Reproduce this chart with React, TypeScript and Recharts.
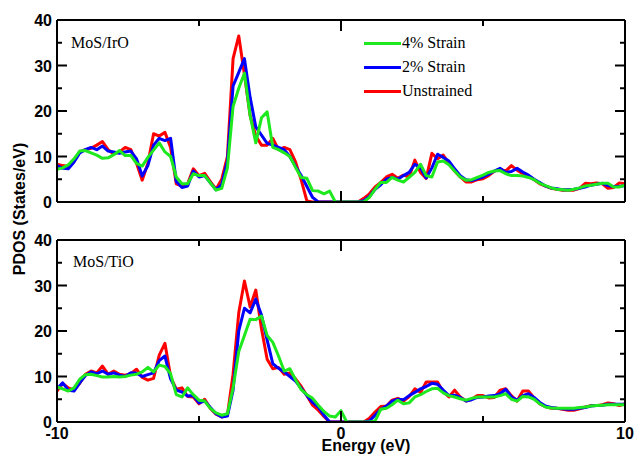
import React from "react";
import { Legend, Line, LineChart, XAxis, YAxis } from "recharts";

// energy grid, eV (step 0.2)
const energies = Array.from({ length: 101 }, (_, i) => Math.round((-10 + i * 0.2) * 10) / 10);

// MoS/IrO
const iroUnstrained = [
  8.3, 8.0, 7.8, 9.0, 11.0,
  11.5, 11.8, 12.5, 13.3, 11.5,
  10.5, 11.0, 12.0, 11.5, 8.5,
  4.8, 8.5, 15.0, 14.5, 15.3,
  12.0, 4.0, 3.5, 4.0, 7.3,
  5.8, 6.3, 4.5, 2.8, 5.0,
  10.0, 31.5, 36.5, 28.0, 19.0,
  14.5, 12.5, 12.5, 14.0, 11.5,
  12.0, 11.5, 8.8, 4.8, 0.2,
  0, 0, 0, 0, 0,
  0, 0, 0, 0, 0.8,
  1.8, 3.3, 4.3, 5.5, 6.1,
  5.2, 5.9, 5.5, 9.2, 6.5,
  5.2, 10.7, 9.5, 10.3, 8.5,
  6.8, 5.5, 4.4, 4.4, 4.9,
  5.1, 5.8, 6.8, 7.2, 6.8,
  8.0, 7.0, 6.2, 5.8, 4.9,
  4.0, 3.5, 3.0, 2.8, 2.6,
  2.6, 2.6, 3.0, 4.1, 4.0,
  4.2, 4.0, 3.0, 3.2, 4.2,
  4.0,
];
const iroStrain2 = [
  8.0, 7.4, 7.3, 8.8, 10.8,
  11.5, 12.0, 11.5, 12.3, 11.2,
  11.0, 10.7, 11.0, 11.2, 9.5,
  5.7, 8.0, 12.5, 14.0, 13.5,
  14.0, 4.5, 3.2, 3.5, 6.8,
  5.5, 5.8, 4.2, 2.7, 3.8,
  9.0, 25.5, 28.5, 31.5, 23.0,
  16.5, 14.7, 12.9, 12.5, 12.0,
  11.5, 10.0, 7.8, 5.8, 3.4,
  1.0, 0, 0, 0, 0,
  0, 0, 0, 0, 0.3,
  1.2, 2.8, 3.8, 5.0, 5.4,
  5.0, 5.8, 6.5, 8.3, 7.5,
  5.3, 7.5, 10.5, 9.8, 9.0,
  7.3, 5.8, 4.9, 4.7, 5.1,
  5.5, 6.1, 6.8, 7.4, 6.5,
  6.7, 7.4, 6.6, 5.9, 5.0,
  4.3, 3.5, 3.1, 2.9, 2.7,
  2.7, 2.8, 3.0, 3.3, 3.7,
  3.9, 4.1, 3.6, 3.4, 3.4,
  3.6,
];
const iroStrain4 = [
  7.2, 7.5, 8.2, 9.5, 11.2,
  11.3, 10.8, 10.3, 9.6, 9.7,
  10.4, 11.3, 10.2, 10.2, 8.5,
  7.9, 9.8, 11.4, 13.0, 11.0,
  10.0, 5.5, 4.0, 4.0, 6.2,
  5.8, 5.8, 4.2, 2.6, 3.0,
  7.5, 21.0, 25.0, 28.3, 19.0,
  13.0, 18.5, 19.8, 12.0, 11.5,
  10.8, 10.0, 7.6, 5.4, 5.2,
  2.5, 2.4, 1.8, 2.4, 0,
  0, 0, 0, 0, 0,
  1.0, 2.8, 4.3, 4.3, 5.4,
  4.8, 4.4, 5.4, 6.5, 8.3,
  5.8, 5.5, 8.8, 9.0, 8.2,
  6.8, 5.5, 4.8, 4.9, 5.4,
  5.9, 6.5, 6.8, 6.9, 6.2,
  5.8, 5.8, 5.7, 5.4, 4.9,
  4.1, 3.6, 3.1, 2.8, 2.7,
  2.6, 2.8, 3.1, 3.5, 3.7,
  3.9, 4.1, 4.1, 3.3, 3.3,
  3.7,
];

// MoS/TiO
const tioUnstrained = [
  6.8, 8.5, 7.5, 7.0, 8.5,
  10.5, 11.2, 10.8, 12.3, 10.5,
  11.2, 10.5, 10.3, 10.6, 11.6,
  9.8, 9.2, 9.6, 14.7, 17.3,
  10.0, 7.2, 7.5, 5.6, 5.5,
  4.0, 5.0, 3.0, 1.7, 1.1,
  1.5, 10.5, 24.0, 31.0, 25.3,
  29.0, 20.5, 13.8, 11.7, 12.0,
  10.5, 10.8, 9.5, 7.8, 5.8,
  3.7, 2.6, 1.2, 0, 0,
  0, 0, 0, 0, 0,
  0.8, 2.2, 3.4, 3.5, 4.8,
  5.2, 4.6, 5.6, 7.3, 6.5,
  8.8, 8.8, 8.8, 6.6, 5.5,
  7.0, 5.5, 4.6, 5.0, 5.8,
  5.8, 5.3, 5.4, 7.0, 7.3,
  5.8, 4.6, 6.8, 6.8, 5.3,
  4.0, 3.4, 3.0, 3.0, 2.8,
  2.6, 2.6, 2.9, 3.3, 3.6,
  3.6, 3.8, 4.2, 4.0, 3.6,
  4.0,
];
const tioStrain2 = [
  7.3, 8.6, 7.0, 6.8, 8.6,
  10.2, 11.0, 10.6, 11.2, 10.5,
  10.8, 10.3, 10.0, 10.8, 10.7,
  10.0, 10.4, 10.8, 13.5, 14.5,
  9.5, 7.0, 6.6, 5.7, 5.8,
  4.2, 4.6, 3.2, 1.8, 1.1,
  1.3, 7.0, 20.0, 25.0, 24.0,
  27.0, 23.5, 18.0, 12.8, 11.8,
  11.0, 10.0, 9.0, 7.4, 5.8,
  4.3, 3.3, 1.5, 0, 0,
  0, 0, 0, 0, 0,
  0.2, 1.5, 2.8, 3.5, 4.6,
  5.0, 4.9, 5.8, 6.5, 7.3,
  7.8, 8.5, 8.3, 7.0, 5.8,
  5.9, 5.4, 4.6, 4.9, 5.4,
  5.5, 5.7, 5.8, 6.2, 7.2,
  5.5, 4.8, 5.8, 6.2, 5.4,
  4.3, 3.5, 3.2, 3.0, 2.9,
  2.8, 2.8, 3.0, 3.2, 3.5,
  3.6, 3.7, 3.9, 3.9, 3.9,
  3.9,
];
const tioStrain4 = [
  7.7, 7.3, 6.8, 7.5, 9.4,
  10.4, 10.5, 10.2, 9.9, 9.9,
  10.0, 9.9, 10.0, 10.3, 10.5,
  11.0, 12.0, 11.0, 12.5, 12.2,
  10.6, 6.0, 5.5, 7.5, 6.0,
  4.8, 4.6, 3.0, 2.0, 1.5,
  1.8, 7.5, 15.5, 19.0, 22.6,
  22.5, 23.3, 19.0, 17.5, 14.5,
  11.2, 11.7, 9.3, 7.1, 6.0,
  5.2, 3.7, 2.3, 1.3, 1.1,
  2.5, 0, 0, 0, 0,
  0, 0.2, 2.8, 3.0, 3.8,
  4.8, 4.0, 4.2, 5.5, 6.0,
  6.7, 7.3, 7.4, 6.4, 5.8,
  5.5, 5.1, 4.8, 5.2, 5.5,
  5.5, 5.5, 5.5, 5.8, 6.2,
  5.0, 4.6, 5.6, 5.5, 5.0,
  4.0, 3.3, 3.1, 3.0, 3.0,
  3.0, 3.0, 3.2, 3.3, 3.5,
  3.6, 3.7, 3.8, 3.8, 3.8,
  3.8,
];

const yTicks = [0, 5, 10, 15, 20, 25, 30, 35, 40];
const xTicks = [-10, -5, 0, 5, 10];
const xLabels = [-10, 0, 10];

// legend order; drawn in reverse so green ends up on top
const series = [
  { key: "s4", name: "4% Strain", color: "#1ee81e" },
  { key: "s2", name: "2% Strain", color: "#0000ff" },
  { key: "s0", name: "Unstrained", color: "#ff0000" },
];

const toRows = (s0: number[], s2: number[], s4: number[]) =>
  energies.map((e, i) => ({ e, s0: s0[i], s2: s2[i], s4: s4[i] }));

const iroRows = toRows(iroUnstrained, iroStrain2, iroStrain4);
const tioRows = toRows(tioUnstrained, tioStrain2, tioStrain4);

const sans = "'Liberation Sans', Arial, sans-serif";
const serif = "'Liberation Serif', 'Times New Roman', serif";
const frame = { stroke: "#000", strokeWidth: 2 };

function LeftTick({ x, y, payload }: any) {
  const v = payload.value;
  const major = v % 10 === 0;
  return (
    <g>
      <line x1={x} x2={x + (major ? 10 : 5)} y1={y} y2={y} stroke="#000" strokeWidth={2} />
      {major && (
        <text x={x - 5} y={y + 6} textAnchor="end" fontFamily={sans} fontWeight="bold" fontSize={16} fill="#000">
          {v}
        </text>
      )}
    </g>
  );
}

function RightTick({ x, y, payload }: any) {
  const major = payload.value % 10 === 0;
  return <line x1={x} x2={x - (major ? 10 : 5)} y1={y} y2={y} stroke="#000" strokeWidth={2} />;
}

function TopTick({ x, y, payload }: any) {
  const v = payload.value;
  if (v === -10 || v === 10) return <g />;
  return <line x1={x} x2={x} y1={y} y2={y + (v % 10 === 0 ? 11 : 6)} stroke="#000" strokeWidth={2} />;
}

function BottomTick({ x, y, payload, labels }: any) {
  const v = payload.value;
  const edge = v === -10 || v === 10;
  return (
    <g>
      {!edge && <line x1={x} x2={x} y1={y} y2={y - (v % 10 === 0 ? 11 : 6)} stroke="#000" strokeWidth={2} />}
      {labels && labels.includes(v) && (
        <text x={x} y={y + 17} textAnchor="middle" fontFamily={sans} fontWeight="bold" fontSize={16} fill="#000">
          {v}
        </text>
      )}
    </g>
  );
}

function LegendBox() {
  return (
    <div style={{ fontFamily: serif, fontSize: 16, color: "#000" }}>
      {series.map((s) => (
        <div key={s.key} style={{ display: "flex", alignItems: "center", height: 24 }}>
          <span style={{ display: "inline-block", width: 37, height: 3, background: s.color, marginRight: 1 }} />
          <span style={{ lineHeight: "24px", whiteSpace: "nowrap" }}>{s.name}</span>
        </div>
      ))}
    </div>
  );
}

function Panel({ rows, top, height, bottom, legend, labels }: any) {
  return (
    <div style={{ position: "absolute", left: 0, top, width: 635, height }}>
      <LineChart width={635} height={height} data={rows} margin={{ top: 19, right: 9, bottom, left: 0 }}>
        <XAxis
          xAxisId="b"
          dataKey="e"
          type="number"
          domain={[-10, 10]}
          ticks={xTicks}
          interval={0}
          height={1}
          tickSize={0}
          tickMargin={0}
          axisLine={frame}
          tickLine={false}
          tick={(p: any) => <BottomTick {...p} labels={labels} />}
        />
        <XAxis
          xAxisId="t"
          orientation="top"
          dataKey="e"
          type="number"
          domain={[-10, 10]}
          allowDataOverflow
          ticks={xTicks}
          interval={0}
          height={1}
          tickSize={0}
          tickMargin={0}
          axisLine={frame}
          tickLine={false}
          tick={(p: any) => <TopTick {...p} />}
        />
        <YAxis
          yAxisId="l"
          type="number"
          domain={[0, 40]}
          allowDataOverflow
          ticks={yTicks}
          interval={0}
          width={57}
          tickSize={0}
          tickMargin={0}
          axisLine={frame}
          tickLine={false}
          tick={(p: any) => <LeftTick {...p} />}
        />
        <YAxis
          yAxisId="r"
          orientation="right"
          type="number"
          domain={[0, 40]}
          allowDataOverflow
          ticks={yTicks}
          interval={0}
          width={1}
          tickSize={0}
          tickMargin={0}
          axisLine={frame}
          tickLine={false}
          tick={(p: any) => <RightTick {...p} />}
        />
        {legend && (
          <Legend
            layout="vertical"
            align="center"
            verticalAlign="middle"
            wrapperStyle={{ left: 364, top: 31, width: 130 }}
            content={() => <LegendBox />}
          />
        )}
        {[...series].reverse().map((s) => (
          <Line
            key={s.key}
            xAxisId="b"
            yAxisId="l"
            type="linear"
            dataKey={s.key}
            name={s.name}
            stroke={s.color}
            strokeWidth={3}
            strokeLinejoin="round"
            dot={false}
            activeDot={false}
            isAnimationActive={false}
          />
        ))}
      </LineChart>
    </div>
  );
}

export default function App() {
  return (
    <div style={{ position: "absolute", left: 0, top: 0, width: 635, height: 455, background: "#fff" }}>
      <Panel rows={iroRows} top={0} height={225} bottom={22} legend />
      <Panel rows={tioRows} top={220} height={235} bottom={32} labels={xLabels} />
      <svg width={635} height={455} style={{ position: "absolute", left: 0, top: 0, pointerEvents: "none" }}>
        <text x={71} y={48} fontFamily={serif} fontSize={16} fill="#000">MoS/IrO</text>
        <text x={73} y={267} fontFamily={serif} fontSize={16} fill="#000">MoS/TiO</text>
        <text
          transform="translate(25 209) rotate(-90)"
          textAnchor="middle"
          fontFamily={sans}
          fontWeight="bold"
          fontSize={16}
          fill="#000"
        >
          PDOS (States/eV)
        </text>
        <text x={366} y={451} textAnchor="middle" fontFamily={sans} fontWeight="bold" fontSize={16} fill="#000">
          Energy (eV)
        </text>
      </svg>
    </div>
  );
}
